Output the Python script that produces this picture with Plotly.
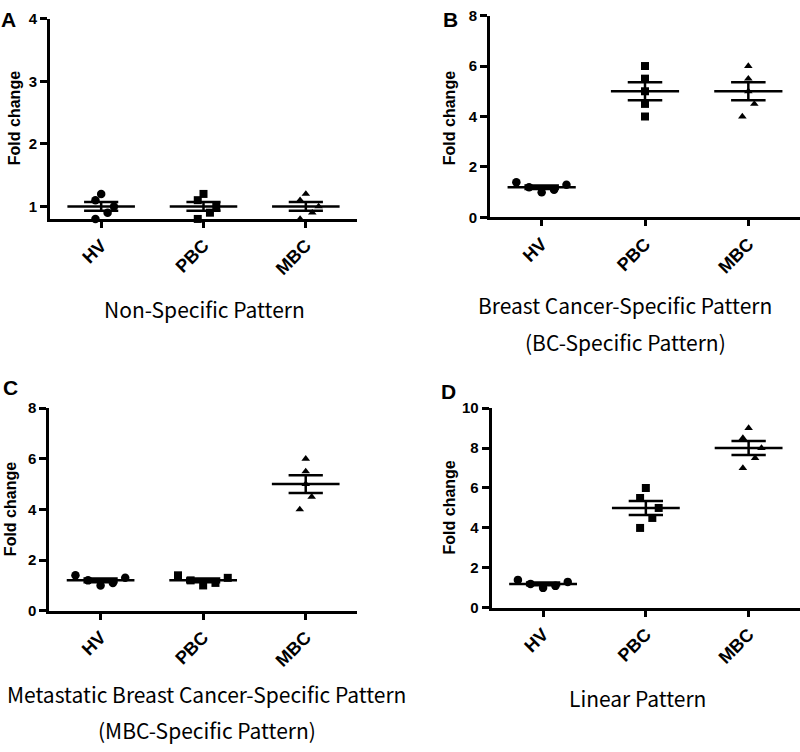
import numpy as np
import plotly.graph_objects as go

# ---------------- data ----------------
categories = ["HV", "PBC", "MBC"]

# Panel A - Non-Specific Pattern
a_hv = [1.2, 1.1, 1.0, 0.9, 0.8]
a_pbc = [1.2, 1.1, 1.0, 0.9, 0.8]
a_mbc = [1.2, 1.1, 1.0, 0.9, 0.8]

# Panel B - BC-Specific Pattern
b_hv = [1.4, 1.2, 1.0, 1.1, 1.3]
b_pbc = [6.0, 5.5, 5.0, 4.5, 4.0]
b_mbc = [6.0, 5.5, 5.0, 4.5, 4.0]

# Panel C - MBC-Specific Pattern
c_hv = [1.4, 1.2, 1.0, 1.1, 1.3]
c_pbc = [1.4, 1.2, 1.0, 1.1, 1.3]
c_mbc = [6.0, 5.5, 5.0, 4.5, 4.0]

# Panel D - Linear Pattern
d_hv = [1.4, 1.2, 1.0, 1.1, 1.3]
d_pbc = [6.0, 5.5, 5.0, 4.5, 4.0]
d_mbc = [9.0, 8.5, 8.0, 7.5, 7.0]

a_yticks = [1, 2, 3, 4]
bc_yticks = [0, 2, 4, 6, 8]
d_yticks = [0, 2, 4, 6, 8, 10]

y_title = "Fold change"
a_sub = ["Non-Specific Pattern"]
b_sub = ["Breast Cancer-Specific Pattern", "(BC-Specific Pattern)"]
c_sub = ["Metastatic Breast Cancer-Specific Pattern", "(MBC-Specific Pattern)"]
d_sub = ["Linear Pattern"]

# ---------------- style ----------------
# horizontal scatter spread of points (category units), column-scatter style
SPREAD_NARROW = [0.0, -0.056, 0.125, 0.063, -0.056]
SPREAD_WIDE = [-0.245, -0.122, 0.0, 0.12, 0.24]
SPREAD_TAIL = [0.0, 0.0, 0.0, 0.058, -0.058]
SPREAD_NONE = [0.0, 0.0, 0.0, 0.0, 0.0]

SYMBOLS = [("circle", 8.5), ("square", 8), ("triangle-up", 7.5)]
MEAN_HALF = 0.33
CAP_HALF = 0.167
LW = 2.5
BOLD = "Liberation Sans, Arial, sans-serif"

W, H = 800, 752

def px_x(p):
    return p / W

def px_y(p):
    return 1 - p / H

panels = [
    dict(letter="A", groups=[(a_hv, SPREAD_NARROW), (a_pbc, SPREAD_NARROW), (a_mbc, SPREAD_NARROW)],
         dx=(50, 357), dy=(10, 214.8), yr=[0.8, 4], ticks=a_yticks,
         letter_pos=(8, 11), ytitle_pos=(14, 111.7), sub=a_sub, sub_pos=(205, [306.7])),
    dict(letter="B", groups=[(b_hv, SPREAD_WIDE), (b_pbc, SPREAD_NONE), (b_mbc, SPREAD_TAIL)],
         dx=(490, 800), dy=(6.7, 213.3), yr=[0, 8], ticks=bc_yticks,
         letter_pos=(450, 11), ytitle_pos=(449, 111.7), sub=b_sub, sub_pos=(625, [303, 340.7])),
    dict(letter="C", groups=[(c_hv, SPREAD_WIDE), (c_pbc, SPREAD_WIDE), (c_mbc, SPREAD_TAIL)],
         dx=(49.3, 357), dy=(408.3, 615.7), yr=[0, 8], ticks=bc_yticks,
         letter_pos=(10, 387), ytitle_pos=(10, 511.7), sub=c_sub, sub_pos=(207, [701, 738])),
    dict(letter="D", groups=[(d_hv, SPREAD_WIDE), (d_pbc, SPREAD_NARROW), (d_mbc, SPREAD_NARROW)],
         dx=(491.7, 800), dy=(408.3, 612.7), yr=[0, 10], ticks=d_yticks,
         letter_pos=(448, 391), ytitle_pos=(449, 510), sub=d_sub, sub_pos=(637, [705])),
]

fig = go.Figure()
annotations = []
layout_axes = {}

for k, p in enumerate(panels):
    sfx = "" if k == 0 else str(k + 1)
    xref, yref = "x" + sfx, "y" + sfx
    for gi, (vals, spread) in enumerate(p["groups"]):
        sym, size = SYMBOLS[gi]
        vals_arr = np.array(vals, dtype=float)
        fig.add_trace(go.Scatter(
            x=[gi + s for s in spread], y=vals, mode="markers",
            marker=dict(symbol=sym, size=size, color="black", line=dict(width=0)),
            xaxis=xref, yaxis=yref, showlegend=False, cliponaxis=False, hoverinfo="y"))
        m = vals_arr.mean()
        sem = vals_arr.std(ddof=1) / np.sqrt(len(vals_arr))
        fig.add_trace(go.Scatter(
            x=[gi - MEAN_HALF, gi + MEAN_HALF, None,
               gi, gi, None,
               gi - CAP_HALF, gi + CAP_HALF, None,
               gi - CAP_HALF, gi + CAP_HALF],
            y=[m, m, None,
               m - sem, m + sem, None,
               m + sem, m + sem, None,
               m - sem, m - sem],
            mode="lines", line=dict(color="black", width=LW),
            xaxis=xref, yaxis=yref, showlegend=False, cliponaxis=False, hoverinfo="skip"))

    layout_axes["xaxis" + sfx] = dict(
        domain=[px_x(p["dx"][0]), px_x(p["dx"][1])], anchor=yref,
        range=[-0.5, 2.5], tickmode="array", tickvals=[0, 1, 2], ticktext=categories,
        tickangle=-45, ticks="outside", ticklen=6, tickwidth=LW, tickcolor="black",
        showline=True, linecolor="black", linewidth=3, showgrid=False, zeroline=False,
        tickfont=dict(family=BOLD, size=18, color="black", weight="bold"),
        fixedrange=True)
    layout_axes["yaxis" + sfx] = dict(
        domain=[px_y(p["dy"][1]), px_y(p["dy"][0])], anchor=xref,
        range=p["yr"], tickmode="array", tickvals=p["ticks"],
        ticks="outside", ticklen=7, tickwidth=LW, tickcolor="black",
        showline=True, linecolor="black", linewidth=3, showgrid=False, zeroline=False,
        tickfont=dict(family=BOLD, size=15, color="black", weight="bold"),
        fixedrange=True)

    lx, ly = p["letter_pos"]
    annotations.append(dict(text=p["letter"], x=px_x(lx), y=px_y(ly), xref="paper", yref="paper",
                            xanchor="center", yanchor="middle", showarrow=False,
                            font=dict(family=BOLD, size=21, color="black", weight="bold")))
    tx, ty = p["ytitle_pos"]
    annotations.append(dict(text=y_title, x=px_x(tx), y=px_y(ty), xref="paper", yref="paper",
                            xanchor="center", yanchor="middle", showarrow=False, textangle=-90,
                            font=dict(family=BOLD, size=16, color="black", weight="bold")))
    sx, sys_ = p["sub_pos"]
    for line, sy in zip(p["sub"], sys_):
        annotations.append(dict(text=line, x=px_x(sx), y=px_y(sy), xref="paper", yref="paper",
                                xanchor="center", yanchor="middle", showarrow=False,
                                font=dict(family="Noto Sans CJK JP", size=21, color="black")))

fig.update_layout(
    width=W, height=H, margin=dict(l=0, r=0, t=0, b=0),
    paper_bgcolor="white", plot_bgcolor="white",
    showlegend=False, annotations=annotations, **layout_axes)

fig.write_html("out.html", config={"displayModeBar": False},
               post_script="document.body.style.margin='0px';")
